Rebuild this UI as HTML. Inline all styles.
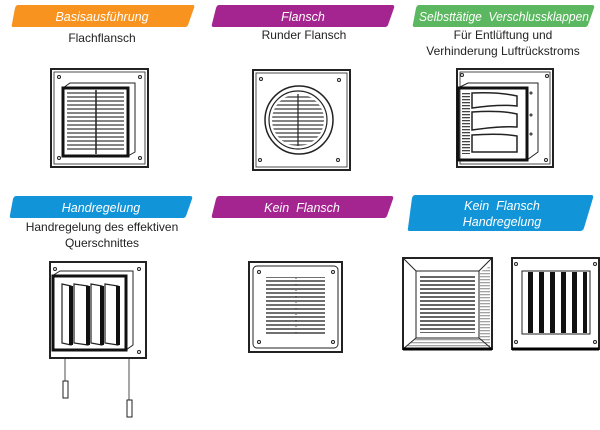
<!DOCTYPE html>
<html><head><meta charset="utf-8"><style>
html,body{margin:0;padding:0;background:#fff;width:600px;height:430px;overflow:hidden}
svg{display:block}
.b{font-family:"Liberation Sans",sans-serif;font-style:italic;fill:#fff;font-size:12.5px}
.t{font-family:"Liberation Sans",sans-serif;fill:#222;font-size:12px}
</style></head><body>
<svg width="600" height="430" viewBox="0 0 600 430" xmlns="http://www.w3.org/2000/svg">
<defs>
<pattern id="hl" width="4" height="4" patternUnits="userSpaceOnUse"><rect width="4" height="2" fill="#333"/></pattern>
<pattern id="hl3" width="3" height="3" patternUnits="userSpaceOnUse"><rect width="3" height="1.3" fill="#444"/></pattern>
<pattern id="vl" width="11" height="4" patternUnits="userSpaceOnUse"><rect width="5" height="4" fill="#111"/></pattern>
</defs>
<!-- banners -->
<path d="M18 5H193Q195 5 194 8L188 25Q187 27 185 27H13Q11 27 12 24L15 8Q16 5 18 5Z" fill="#f7931e"/>
<text class="b" x="102" y="21" text-anchor="middle">Basisausführung</text>
<path d="M219 5H392Q395 5 394 8L388 25Q387 27 385 27H214Q211 27 212 24L216 8Q217 5 219 5Z" fill="#a4258f"/>
<text class="b" x="303" y="21" text-anchor="middle">Flansch</text>
<path d="M419 5H592Q595 5 594 8L588 25Q587 27 585 27H415Q412 27 413 24L416 8Q417 5 419 5Z" fill="#5cb860"/>
<text class="b" x="419" y="21" font-size="12" textLength="170" lengthAdjust="spacingAndGlyphs">Selbsttätige&#160; Verschlussklappen</text>

<path d="M16 196H190Q193 196 192 199L186 216Q185 218 183 218H12Q9 218 10 215L13 199Q14 196 16 196Z" fill="#1295d8"/>
<text class="b" x="101" y="212" text-anchor="middle">Handregelung</text>
<path d="M219 196H391Q394 196 393 199L387 216Q386 218 384 218H214Q211 218 212 215L216 199Q217 196 219 196Z" fill="#a4258f"/>
<text class="b" x="302" y="212" text-anchor="middle">Kein&#160; Flansch</text>
<path d="M415 195H591Q594 195 593 198L584 228Q583 231 580 231H410Q407 231 408 228L412 198Q413 195 415 195Z" fill="#1295d8"/>
<text class="b" x="502" y="210" text-anchor="middle">Kein&#160; Flansch</text>
<text class="b" x="502" y="226" text-anchor="middle">Handregelung</text>

<!-- captions -->
<text class="t" x="102" y="42" text-anchor="middle">Flachflansch</text>
<text class="t" x="304" y="39" text-anchor="middle">Runder Flansch</text>
<text class="t" x="503" y="39" text-anchor="middle">Für Entlüftung und</text>
<text class="t" x="503" y="55" text-anchor="middle">Verhinderung Luftrückstroms</text>
<text class="t" x="102" y="231" text-anchor="middle">Handregelung des effektiven</text>
<text class="t" x="102" y="247" text-anchor="middle">Querschnittes</text>

<g fill="none" stroke="#222">
<!-- img1 -->
<rect x="51" y="69" width="97" height="98" stroke-width="2"/>
<rect x="54" y="72" width="91" height="92" stroke-width="0.8"/>
<path d="M63 88L70 83H135V152L128 156" stroke-width="1"/>
<rect x="63" y="88" width="65" height="68" stroke="#111" stroke-width="3"/>
<rect x="67" y="92" width="57" height="60" fill="url(#hl)" stroke="none" opacity="0.6"/>
<line x1="96" y1="90" x2="96" y2="154" stroke-width="1.5"/>
<g fill="#fff"><circle cx="59" cy="77" r="1.5"/><circle cx="140" cy="77" r="1.5"/><circle cx="59" cy="158" r="1.5"/><circle cx="140" cy="158" r="1.5"/></g>
<!-- img2 -->
<rect x="253" y="70" width="97" height="100" stroke-width="2"/>
<rect x="256" y="73" width="91" height="94" stroke-width="0.8"/>
<circle cx="299" cy="120" r="34" stroke-width="1.5"/>
<circle cx="298" cy="120" r="29" stroke-width="1.2"/>
<circle cx="298" cy="120" r="26" fill="url(#hl)" stroke="none" opacity="0.6"/>
<line x1="298" y1="94" x2="298" y2="146" stroke-width="1.2"/>
<g fill="#fff"><circle cx="261" cy="79" r="1.5"/><circle cx="339" cy="80" r="1.5"/><circle cx="260" cy="160" r="1.5"/><circle cx="338" cy="160" r="1.5"/></g>
<!-- img3 -->
<rect x="457" y="69" width="96" height="98" stroke-width="2"/>
<rect x="460" y="72" width="90" height="92" stroke-width="0.8"/>
<path d="M458 88L468 83H538V152L527 160" stroke-width="1"/>
<rect x="458" y="88" width="69" height="72" stroke="#111" stroke-width="3"/>
<path d="M472 93Q500 92 517 96V106Q500 104 472 108Z M472 112Q500 110 517 114V127Q500 126 472 130Z M472 135Q500 133 517 136V152H472Z" stroke-width="1.5"/>
<rect x="462" y="92" width="8" height="62" fill="url(#hl3)" stroke="none"/>
<g fill="#fff"><circle cx="462" cy="75" r="1.5"/><circle cx="547" cy="76" r="1.5"/><circle cx="546" cy="160" r="1.5"/><circle cx="531" cy="93" r="1"/><circle cx="531" cy="115" r="1"/><circle cx="531" cy="134" r="1"/></g>
<!-- img4 handregelung -->
<rect x="50" y="262" width="96" height="96" stroke-width="2"/>
<path d="M52 276L60 271H133V345L126 350" stroke-width="1"/>
<rect x="53" y="276" width="73" height="74" stroke="#111" stroke-width="3"/>
<path d="M62 284L71 286V345L62 343Z M74 284L88 286V345L74 343Z M91 284L102 286V345L91 343Z M105 284L118 286V345L105 343Z" stroke-width="1.2"/>
<path d="M71 286V345 M88 286V345 M102 286V345 M118 286V345" stroke="#111" stroke-width="4"/>
<line x1="65" y1="358" x2="65" y2="381" stroke-width="0.8"/>
<line x1="129" y1="358" x2="129" y2="400" stroke-width="0.8"/>
<rect x="63" y="381" width="5" height="17" stroke-width="1"/>
<rect x="127" y="400" width="5" height="17" stroke-width="1"/>
<g fill="#fff"><circle cx="55" cy="269" r="1.5"/><circle cx="139" cy="269" r="1.5"/><circle cx="139" cy="352" r="1.5"/></g>
<!-- img5 kein flansch -->
<rect x="249" y="262" width="93" height="90" stroke-width="2"/>
<rect x="253" y="266" width="85" height="82" rx="4" stroke-width="1"/>
<rect x="266" y="277" width="59" height="58" fill="url(#hl)" stroke="none" opacity="0.7"/>
<line x1="296" y1="278" x2="296" y2="334" stroke-width="0.8" stroke-dasharray="1 5"/>
<g fill="#fff"><circle cx="259" cy="272" r="1.5"/><circle cx="333" cy="272" r="1.5"/><circle cx="259" cy="342" r="1.5"/><circle cx="333" cy="342" r="1.5"/></g>
<!-- img6 -->
<rect x="403" y="258" width="89" height="91" stroke-width="2"/>
<path d="M403 258L416 271M492 258L479 271M403 349L416 338M492 349L479 338" stroke-width="1"/>
<rect x="416" y="271" width="63" height="67" stroke-width="1"/>
<rect x="420" y="275" width="55" height="58" fill="url(#hl)" stroke="none" opacity="0.75"/>
<path d="M480 272L490 266V347L480 340Z" fill="url(#hl3)" stroke="none" opacity="0.5"/>
<path d="M404 348L416 339H479L491 348Z" fill="url(#hl3)" stroke="none" opacity="0.5"/>
<line x1="403" y1="349" x2="492" y2="349" stroke="#000" stroke-width="3"/>
<!-- img7 -->
<rect x="512" y="258" width="87" height="91" stroke-width="2"/>
<line x1="512" y1="349" x2="599" y2="349" stroke="#000" stroke-width="3"/>
<rect x="522" y="271" width="68" height="63" stroke-width="1"/>
<rect x="526" y="272" width="61" height="61" fill="url(#vl)" stroke="none"/>
<g fill="#fff"><circle cx="516" cy="264" r="1.5"/><circle cx="595" cy="264" r="1.5"/><circle cx="516" cy="342" r="1.5"/><circle cx="595" cy="342" r="1.5"/></g>
</g>
</svg>
</body></html>
